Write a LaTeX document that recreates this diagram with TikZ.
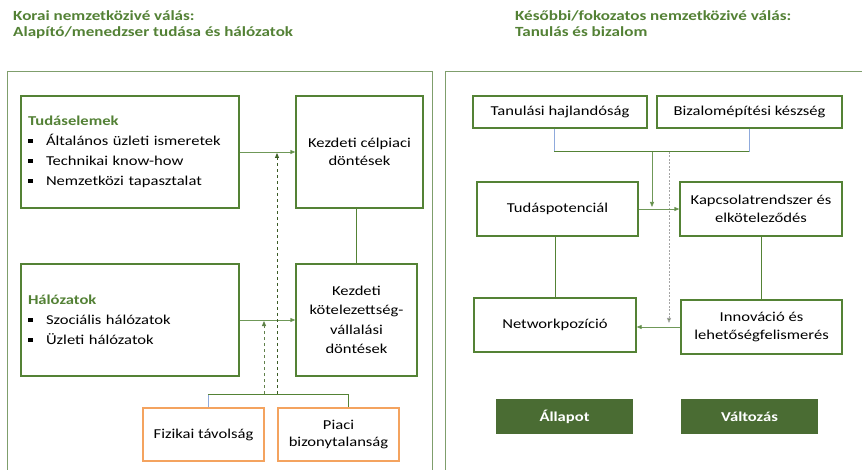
\documentclass[tikz,border=0pt]{standalone}
\usepackage{fontspec}
\setmainfont{Carlito}[FakeStretch=1.22]
\usetikzlibrary{arrows.meta}
\definecolor{boxgreen}{HTML}{548235}
\definecolor{framegreen}{HTML}{7F9E6C}
\definecolor{linegreen}{HTML}{6F9858}
\definecolor{titlegreen}{HTML}{538135}
\definecolor{fillgreen}{HTML}{4A6C33}
\definecolor{boxorange}{HTML}{F4A35F}
\definecolor{stubblue}{HTML}{8FAADC}
\definecolor{dotgray}{HTML}{A5A5A5}
\newcommand{\sqbullet}{\rule[2.5pt]{5pt}{4.5pt}\hspace{13pt}}

\begin{document}
\begin{tikzpicture}[x=1pt,y=-1pt]
\tikzstyle{every node}=[font=\fontsize{13.6}{17.5}\selectfont]
\tikzstyle{box}=[draw=boxgreen,line width=1.3pt,align=center,inner sep=4pt]
\tikzstyle{listbox}=[box,align=left,inner xsep=7pt,text width=204pt,minimum height=112pt,font=\fontsize{13.6}{20}\selectfont]
\tikzstyle{riskbox}=[box,draw=boxorange]
\tikzstyle{tag}=[fill=fillgreen,text=white,font=\fontsize{13.6}{17.5}\selectfont\bfseries,minimum width=137pt,minimum height=35pt]
\tikzstyle{heading}=[anchor=north west,inner sep=0pt,align=left,text=titlegreen,font=\fontsize{14}{16}\selectfont\bfseries]
\tikzstyle{frame}=[draw=framegreen,line width=1pt]
\tikzstyle{arr}=[draw=linegreen,line width=0.8pt,-{Triangle[length=5pt,width=4pt,fill=boxgreen]}]
\tikzstyle{link}=[draw=boxgreen,line width=1pt]
\tikzstyle{stub}=[draw=stubblue,line width=1pt]

\useasboundingbox (0,0) rectangle (862,470);

% headings and panels
\node (HeadL) [heading] at (13,10) {Korai nemzetközivé válás:\\Alapító/menedzser tudása és hálózatok};
\node (HeadR) [heading] at (515,10) {Későbbi/fokozatos nemzetközivé válás:\\Tanulás és bizalom};
\draw[frame] (7,470) -- (7,72) -- (432,72) -- (432,470);
\draw[frame] (445,470) -- (445,72) -- (862,72);

% early internationalisation
\node (Know) [listbox] at (130,152) {\textcolor{titlegreen}{\textbf{Tudáselemek}}\\
    \sqbullet Általános üzleti ismeretek\\
    \sqbullet Technikai know-how\\
    \sqbullet Nemzetközi tapasztalat};
\node (Netw) [listbox] at (130,320) {\textcolor{titlegreen}{\textbf{Hálózatok}}\\
    \sqbullet Szociális hálózatok\\
    \sqbullet Üzleti hálózatok};
\node (Target) [box,minimum width=127pt,minimum height=112pt] at (359.5,152) {Kezdeti célpiaci\\döntések};
\node (Commit) [box,minimum width=121pt,minimum height=112pt,font=\fontsize{13.6}{19.5}\selectfont] at (356.5,320) {Kezdeti\\kötelezettség-\\vállalási\\döntések};
\node (Dist) [riskbox,minimum width=121pt,minimum height=53pt] at (203.5,434.5) {Fizikai távolság};
\node (Uncert) [riskbox,minimum width=121pt,minimum height=53pt] at (338.5,434.5) {Piaci\\bizonytalanság};

\coordinate (BrL) at (208,394);
\coordinate (BrR) at (348,394);
\draw[arr] (Know.east) -- (Target.west);
\draw[arr] (Netw.east) -- (Commit.west);
\draw[link] (Commit.north) -- (Commit.north |- Target.south);
\draw[stub] (BrL |- Dist.north) -- (BrL);
\draw[link] (BrL) -- (BrR) -- (BrR |- Uncert.north);
\draw[arr,draw=boxgreen!70!gray,dashed] (264,394) -- (264,321);
\draw[arr,draw=boxgreen!70!black,dashed] (277,394) -- (277,153);

% later internationalisation
\node (Learn) [box,minimum width=174pt,minimum height=32pt] at (560,112) {Tanulási hajlandóság};
\node (Trust) [box,minimum width=185pt,minimum height=32pt] at (749.5,112) {Bizalomépítési készség};
\node (Potent) [box,minimum width=161pt,minimum height=54pt] at (557.5,209) {Tudáspotenciál};
\node (Relat) [box,minimum width=162pt,minimum height=54pt] at (761,209) {Kapcsolatrendszer és\\elköteleződés};
\node (Pos) [box,minimum width=162pt,minimum height=54pt] at (555,325) {Networkpozíció};
\node (Innov) [box,minimum width=161pt,minimum height=54pt] at (761.5,327) {Innováció és\\lehetőségfelismerés};
\node (State) [tag] at (564.5,416.5) {Állapot};
\node (Change) [tag] at (749.5,416.5) {Változás};

\coordinate (TopL) at (554,152);
\coordinate (TopR) at (749,152);
\draw[stub] (TopL |- Learn.south) -- (TopL);
\draw[stub] (TopR |- Trust.south) -- (TopR);
\draw[link] (TopL) -- (TopR);
\draw[arr] (652,152) -- (652,207);
\draw[arr,draw=dotgray,dash pattern=on 2pt off 1.5pt] (669,152) -- (669,323);
\draw[arr] (Potent.east) -- (Relat.west);
\draw[link] (Pos.north) -- (Pos.north |- Potent.south);
\draw[link] (Innov.north) -- (Innov.north |- Relat.south);
\draw[arr] (Innov.west) -- (Innov.west -| Pos.east);

\end{tikzpicture}
\end{document}
